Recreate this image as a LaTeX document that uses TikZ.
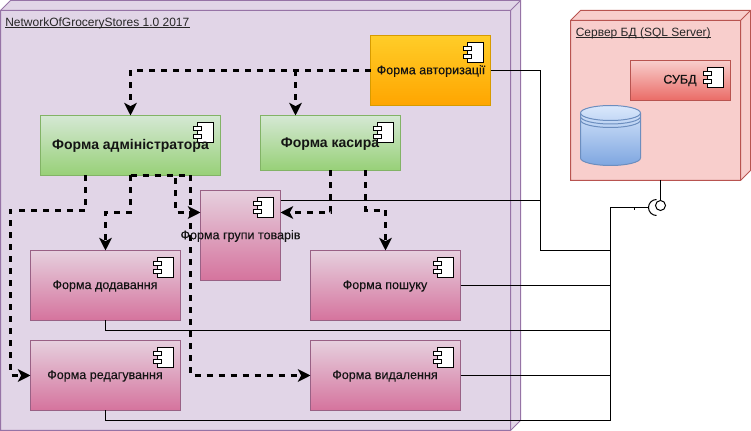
\documentclass[tikz,border=0pt]{standalone}
\usepackage{fontspec}
\setmainfont{Liberation Sans}
\newfontfamily\semibold[FakeBold=0.15]{Liberation Sans}
\usetikzlibrary{calc,arrows.meta}
\newcommand{\pxbox}[7]{% name x1 y1 x2 y2 style text
  \node[#6, minimum width={(#4-#2)*0.75pt}, minimum height={(#5-#3)*0.75pt}] (#1) at ({(#2+#4)/2},{(#3+#5)/2}) {};
}
\newcommand{\compicon}[1]{% top-right anchor of the icon body
  \draw[icon] ($(#1)+(-16,0)$) rectangle ($(#1)+(0,20)$);
  \draw[icon] ($(#1)+(-20.5,4)$) rectangle ($(#1)+(-12,8)$);
  \draw[icon] ($(#1)+(-20.5,12)$) rectangle ($(#1)+(-12,16)$);
}
\tikzset{
  pbox/.style={line width=0.75pt, inner sep=0pt, outer sep=0pt, rectangle},
  greenbox/.style={pbox, draw={rgb,255:red,130;green,179;blue,102}, top color=gd1, bottom color=gd2},
  orangebox/.style={pbox, draw=ord, top color=or1, bottom color=or2},
  pinkbox/.style={pbox, draw=pkd, top color=pk1, bottom color=pk2},
  redbox/.style={pbox, draw=srvd, top color=srv, bottom color=rd2},
  icon/.style={draw=black, fill=white, line width=0.75pt},
  dep/.style={draw=black, line width=1.7pt, dash pattern=on 4.5pt off 4.5pt, -{Stealth[length=9.5pt,width=9.5pt,inset=2.5pt]}},
  wire/.style={draw=black, line width=0.75pt},
  lab/.style={font=\fontsize{9.4}{11}\semibold, text=black!92},
  blab/.style={font=\fontsize{10.5}{12}\selectfont\bfseries, text=black!92},
  ulab/.style={font=\fontsize{9}{11}\selectfont, text=black!85, anchor=base west, inner sep=0pt},
}
\definecolor{gd1}{HTML}{D5E8D4}\definecolor{gd2}{HTML}{97D077}
\definecolor{or1}{HTML}{FFCD28}\definecolor{or2}{HTML}{FFA500}\definecolor{ord}{HTML}{D79B00}
\definecolor{pk1}{HTML}{E6D0DE}\definecolor{pk2}{HTML}{D5739D}\definecolor{pkd}{HTML}{996185}
\definecolor{srv}{HTML}{F8CECC}\definecolor{srvd}{HTML}{B85450}\definecolor{rd2}{HTML}{EA6B66}
\definecolor{nd}{HTML}{E1D5E7}\definecolor{ndd}{HTML}{9673A6}
\definecolor{bl1}{HTML}{DAE8FC}\definecolor{bl2}{HTML}{7EA6E0}\definecolor{bld}{HTML}{6C8EBF}
\begin{document}
\begin{tikzpicture}[x=0.75pt,y=-0.75pt]
\useasboundingbox (0,0) rectangle (751,431);
% deployment node
\fill[nd,draw=ndd,line width=0.75pt] (0.5,430.5) -- (0.5,10.5) -- (10.5,0.5) -- (520.5,0.5) -- (520.5,420.5) -- (510.5,430.5) -- cycle;
\draw[ndd,line width=0.75pt] (0.5,10.5) -- (510.5,10.5) -- (510.5,430.5) (510.5,10.5) -- (520.5,0.5);
\node[ulab] (nodetitle) at (5,26.5) {NetworkOfGroceryStores 1.0 2017};
\draw[black!85,line width=0.75pt] ($(nodetitle.base west)+(0,1.5)$) -- ($(nodetitle.base east)+(0,1.5)$);
% server
\fill[srv,draw=srvd,line width=0.75pt] (570.5,180.5) -- (570.5,20.5) -- (580.5,10.5) -- (750.5,10.5) -- (750.5,170.5) -- (740.5,180.5) -- cycle;
\draw[srvd,line width=0.75pt] (570.5,20.5) -- (740.5,20.5) -- (740.5,180.5) (740.5,20.5) -- (750.5,10.5);
\node[ulab] (srvtitle) at (575.5,36.5) {Сервер БД (SQL Server)};
\draw[black!85,line width=0.75pt] ($(srvtitle.base west)+(0,1.5)$) -- ($(srvtitle.base east)+(0,1.5)$);
% boxes
\pxbox{auth}{370.5}{35.5}{490.5}{105.5}{orangebox}{}
\pxbox{admin}{40.5}{115.5}{220.5}{175.5}{greenbox}{}
\pxbox{cash}{260.5}{115.5}{400.5}{170.5}{greenbox}{}
\pxbox{group}{200.5}{190.5}{280.5}{280.5}{pinkbox}{}
\pxbox{add}{30.5}{250.5}{180.5}{320.5}{pinkbox}{}
\pxbox{edit}{30.5}{340.5}{180.5}{410.5}{pinkbox}{}
\pxbox{search}{310.5}{250.5}{460.5}{320.5}{pinkbox}{}
\pxbox{del}{310.5}{340.5}{460.5}{410.5}{pinkbox}{}
\pxbox{dbms}{630.5}{60.5}{730.5}{100.5}{redbox}{}
% database
\shade[top color=bl1,bottom color=bl2,draw=bld,line width=0.75pt] (580.5,113) arc[start angle=180,end angle=360,x radius=30,y radius=7.5] -- (640.5,158) arc[start angle=0,end angle=180,x radius=30,y radius=7.5] -- cycle;
\draw[bld,line width=0.75pt] (580.5,113) arc[start angle=180,end angle=0,x radius=30,y radius=7.5]
  (580.5,116.5) arc[start angle=180,end angle=0,x radius=30,y radius=7.5]
  (580.5,120) arc[start angle=180,end angle=0,x radius=30,y radius=7.5];
% icons
\compicon{483.5,42.5}
\compicon{213.5,122.5}
\compicon{393.5,122.5}
\compicon{273.5,197.5}
\compicon{173.5,257.5}
\compicon{173.5,347.5}
\compicon{453.5,257.5}
\compicon{453.5,347.5}
\compicon{723.5,67.5}
% coordinates
\coordinate (bus1) at (540.5,70.5);
\coordinate (bus2) at (540.5,250.5);
\coordinate (bus3) at (610.5,250.5);
\coordinate (busgroup) at (540.5,200.5);
\coordinate (bustop) at (610.5,207.5);
\coordinate (busbot) at (610.5,420.5);
\coordinate (ballc) at (660.5,205.5);
\coordinate (sockc) at (656.5,207.5);
% solid wires
\draw[wire] (auth.east |- bus1) -- (bus1) -- (bus2) -- (bus3);
\draw[wire] (group.north east |- busgroup) -- (busgroup);
\draw[wire] (search.east) -- (search.east -| bus3);
\draw[wire] (del.east) -- (del.east -| bus3);
\draw[wire] (add.south) -- ++(0,10) -- ++(505,0);
\draw[wire] (edit.south) -- ++(0,10) -- (busbot) -- (bustop) -- ($(sockc)+(-8,0)$);
\draw[wire] ($(bustop)+(24,0)$) -- ++(0,2.5);
% interface
\draw[wire] (660.5,180.5) -- ($(ballc)+(0,-5.5)$);
\node[circle,draw=black,line width=0.75pt,fill=white,minimum size=7.5pt,inner sep=0pt] (ball) at (ballc) {};
\draw[wire] ($(sockc)+(0,-8)$) arc[start angle=-90,end angle=-270,radius=8];
\coordinate (a1) at (130.5,70.5);
\coordinate (a2) at (295.5,70.5);
% dashed
\draw[dep] (auth.west |- a1) -- (a1) -- (admin.north);
\draw[dep] (a2) -- (a2 |- cash.north);
\draw[dep] ($(admin.south west)+(45,0)$) -- ++(0,35) -- (10.5,210.5) -- (10.5,375.5) -- (edit.west);
\draw[dep] (admin.south) -- ++(0,37) -- (105.5,212.5) -- (add.north);
\draw[dep] (admin.south) -- ++(45,0) -- ++(0,37) -- (200.5,212.5);
\draw[dep] (admin.south) -- ++(60,0) -- (190.5,375.5) -- (del.west);
\draw[dep] ($(cash.south west)+(70,0)$) -- ++(0,42) -- (280.5,212.5);
\draw[dep] ($(cash.south west)+(105,0)$) -- ++(0,40) -- (385.5,210.5) -- (search.north);
% labels
\node[lab] (lauth) at (431,71) {Форма авторизації};
\node[blab] (ladmin) at (130.5,146) {Форма адміністратора};
\node[blab] (lcash) at (330,144) {Форма касира};
\node[lab] (lgroup) at (240.5,236) {Форма групи товарів};
\node[lab] (ladd) at (105,286) {Форма додавання};
\node[lab] (ledit) at (105,376) {Форма редагування};
\node[lab] (lsearch) at (385,286) {Форма пошуку};
\node[lab] (ldel) at (385,376) {Форма видалення};
\node[lab] (ldbms) at (680,80.5) {СУБД};
\end{tikzpicture}
\end{document}
